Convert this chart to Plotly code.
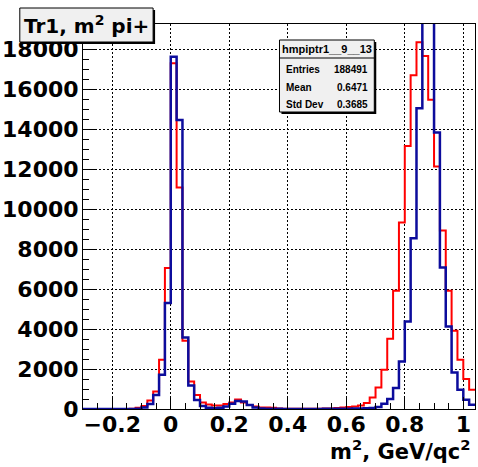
import numpy as np
import plotly.graph_objects as go

# ---------------- data ----------------
x_min = -0.3          # lower edge of first bin
bin_width = 0.02
n_bins = 67

red_counts = [0, 0, 0, 0, 0, 0, 0, 5, 15, 60,
              150, 420, 880, 2465, 7050, 17300, 11080, 3415, 1380, 700,
              330, 220, 180, 180, 250, 330, 480, 330, 205, 120,
              80, 70, 60, 30, 15, 10, 10, 10, 10, 15,
              15, 20, 30, 45, 70, 100, 130, 180, 300, 580,
              1080, 1965, 3515, 5915, 9330, 13165, 16700, 18350, 17665, 15480,
              12130, 8930, 5915, 3915, 2465, 1500, 965]

blue_counts = [0, 0, 0, 0, 0, 0, 0, 0, 0, 15,
               80, 250, 700, 1715, 5300, 17630, 14465, 3580, 1180, 450,
               150, 60, 40, 60, 130, 265, 400, 380, 205, 80,
               30, 15, 10, 10, 5, 5, 5, 5, 5, 5,
               5, 10, 10, 10, 15, 15, 20, 25, 35, 50,
               100, 265, 500, 1050, 2380, 4380, 8550, 15050, 37000, 39000,
               13830, 7080, 4130, 1830, 965, 465, 215]

title_text = "Tr1, m<sup>2</sup> pi+"
x_title = "m<sup>2</sup>, GeV/qc<sup>2</sup>"
stats_name = "hmpiptr1__9__13"
stats_labels = ["Entries", "Mean", "Std Dev"]
stats_values = ["188491", "0.6471", "0.3685"]

y_max = 19265
x_range = [-0.3, 1.04]

# ---------------- figure ----------------
W, H = 478, 467
L, R, T, B = 79, 2, 24, 58
PW, PH = W - L - R, H - T - B

def px(xp):
    return (xp - L) / PW

def py(yp):
    return (H - B - yp) / PH

edges = x_min + bin_width * np.arange(n_bins + 1)

fig = go.Figure()
for counts, color, width in [(red_counts, "#ff0000", 2), (blue_counts, "#0c0c9c", 2.5)]:
    fig.add_trace(go.Scatter(
        x=edges, y=list(counts) + [counts[-1]],
        mode="lines", line=dict(shape="hv", color=color, width=width),
        showlegend=False, hoverinfo="skip"))

tickfont = dict(family="DejaVu Sans", size=22, color="black", weight="bold")

fig.update_layout(
    width=W, height=H,
    margin=dict(l=L, r=R, t=T, b=B, pad=0),
    paper_bgcolor="white", plot_bgcolor="white",
    xaxis=dict(range=x_range, tick0=0, dtick=0.2, ticks="inside", ticklen=12,
               tickcolor="black", showline=True, linecolor="black", linewidth=1,
               mirror=True, showgrid=True, gridcolor="black", griddash="2px,2px",
               gridwidth=1, zeroline=False, tickfont=tickfont, ticklabelstandoff=-4,
               minor=dict(ticks="inside", ticklen=6, dtick=0.05, tick0=0,
                          tickcolor="black", showgrid=False)),
    yaxis=dict(range=[0, y_max], tick0=0, dtick=2000, ticks="inside", ticklen=12,
               tickcolor="black", showline=True, linecolor="black", linewidth=1,
               mirror=True, showgrid=True, gridcolor="black", griddash="2px,2px",
               gridwidth=1, zeroline=False, tickfont=tickfont, tickformat="d",
               ticklabelstandoff=-1,
               minor=dict(ticks="inside", ticklen=6, dtick=500, tick0=0,
                          tickcolor="black", showgrid=False)),
)

shapes = []
# title box with shadow
tb = (15, 8, 150, 42)
shapes.append(dict(type="rect", xref="paper", yref="paper", layer="above",
                   x0=px(tb[0] + 2), x1=px(tb[2] + 2), y0=py(tb[3] + 2), y1=py(tb[1] + 2),
                   fillcolor="#000000", line=dict(width=0)))
shapes.append(dict(type="rect", xref="paper", yref="paper", layer="above",
                   x0=px(tb[0]), x1=px(tb[2]), y0=py(tb[3]), y1=py(tb[1]),
                   fillcolor="#f0f0f0", line=dict(color="black", width=1)))
# stats box with shadow
sb = (278, 40, 374, 112)
shapes.append(dict(type="rect", xref="paper", yref="paper", layer="above",
                   x0=px(sb[0] + 2), x1=px(sb[2] + 2), y0=py(sb[3] + 2), y1=py(sb[1] + 2),
                   fillcolor="#000000", line=dict(width=0)))
shapes.append(dict(type="rect", xref="paper", yref="paper", layer="above",
                   x0=px(sb[0]), x1=px(sb[2]), y0=py(sb[3]), y1=py(sb[1]),
                   fillcolor="#f0f0f0", line=dict(color="black", width=1)))
shapes.append(dict(type="line", xref="paper", yref="paper", layer="above",
                   x0=px(sb[0]), x1=px(sb[2]), y0=py(58), y1=py(58),
                   line=dict(color="black", width=1)))
fig.update_layout(shapes=shapes)

ann = []
ann.append(dict(text=title_text, xref="paper", yref="paper", x=px(82.5), y=py(25.5),
                xanchor="center", yanchor="middle", showarrow=False,
                font=dict(family="DejaVu Sans", size=20, color="black", weight="bold")))
ann.append(dict(text=x_title, xref="paper", yref="paper", x=px(474), y=py(466),
                xanchor="right", yanchor="bottom", showarrow=False,
                font=dict(family="DejaVu Sans", size=21, color="black", weight="bold")))
sfont = dict(family="Liberation Sans", size=10, color="black", weight="bold")
ann.append(dict(text=stats_name, xref="paper", yref="paper", x=px(326), y=py(49),
                xanchor="center", yanchor="middle", showarrow=False,
                font=dict(family="Liberation Sans", size=11, color="black", weight="bold")))
for i, (lab, val) in enumerate(zip(stats_labels, stats_values)):
    yy = 69 + 18 * i
    ann.append(dict(text=lab, xref="paper", yref="paper", x=px(283), y=py(yy),
                    xanchor="left", yanchor="middle", showarrow=False, font=sfont))
    ann.append(dict(text=val, xref="paper", yref="paper", x=px(370), y=py(yy),
                    xanchor="right", yanchor="middle", showarrow=False, font=sfont))
fig.update_layout(annotations=ann)

fig.write_html("out.html")
